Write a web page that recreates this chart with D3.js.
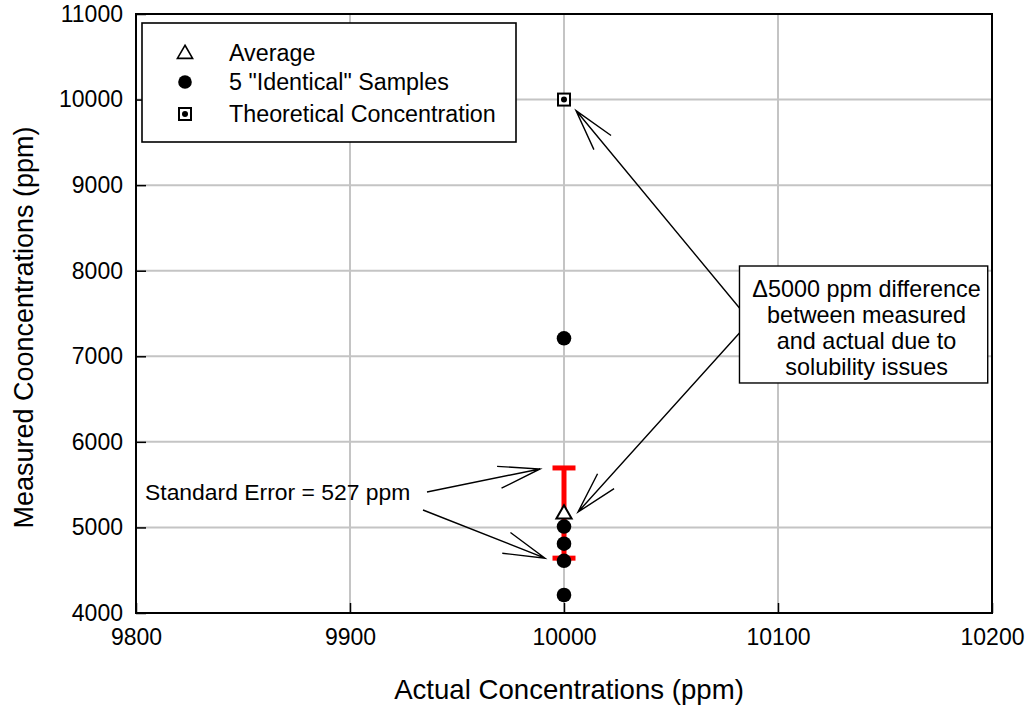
<!DOCTYPE html>
<html>
<head>
<meta charset="utf-8">
<script src="https://cdn.jsdelivr.net/npm/d3@7"></script>
<style>
  body { margin: 0; background: #fff; }
  text { font-family: Arial, "Liberation Sans", sans-serif; fill: #000; }
</style>
</head>
<body>
<div id="chart"></div>
<script>
// data
const sampleX = [10000, 10000, 10000, 10000, 10000];
const sampleY = [7210, 5010, 4810, 4610, 4210];
const averageX = [10000];
const averageY = [5168];
const standardError = [527];
const theoreticalX = [10000];
const theoreticalY = [10000];
const xTicks = [9800, 9900, 10000, 10100, 10200];
const yTicks = [4000, 5000, 6000, 7000, 8000, 9000, 10000, 11000];
const legendLabels = ["Average", "5 \"Identical\" Samples", "Theoretical Concentration"];
const noteLines = ["\u03945000 ppm difference", "between measured", "and actual due to", "solubility issues"];
const seLabel = "Standard Error = 527 ppm";

const W = 1027, H = 709;
const margin = { top: 14, right: 35, bottom: 96, left: 136 };
const width = W - margin.left - margin.right;
const height = H - margin.top - margin.bottom;

const svg = d3.select("#chart").append("svg")
  .attr("width", W)
  .attr("height", H);

const g = svg.append("g")
  .attr("transform", "translate(" + margin.left + "," + margin.top + ")");

const x = d3.scaleLinear().domain([9800, 10200]).range([0, width]);
const y = d3.scaleLinear().domain([4000, 11000]).range([height, 0]);

// grid
g.append("g").selectAll("line")
  .data(xTicks.slice(1, -1))
  .enter().append("line")
  .attr("x1", d => x(d)).attr("x2", d => x(d))
  .attr("y1", 0).attr("y2", height)
  .attr("stroke", "#c4c4c4").attr("stroke-width", 2);

g.append("g").selectAll("line")
  .data(yTicks.slice(1, -1))
  .enter().append("line")
  .attr("y1", d => y(d)).attr("y2", d => y(d))
  .attr("x1", 0).attr("x2", width)
  .attr("stroke", "#c4c4c4").attr("stroke-width", 2);

// axes, ticks pointing inwards
const xAxis = g.append("g")
  .attr("transform", "translate(0," + height + ")")
  .call(d3.axisBottom(x).tickValues(xTicks).tickFormat(d3.format("d")).tickSizeInner(-10).tickSizeOuter(0).tickPadding(16));
const yAxis = g.append("g")
  .call(d3.axisLeft(y).tickValues(yTicks).tickFormat(d3.format("d")).tickSizeInner(-10).tickSizeOuter(0).tickPadding(13));

[xAxis, yAxis].forEach(a => {
  a.select(".domain").remove();
  a.selectAll(".tick line").attr("stroke", "#000").attr("stroke-width", 1.5);
  a.selectAll(".tick text")
    .attr("font-family", "Arial, 'Liberation Sans', sans-serif")
    .attr("font-size", 23)
    .attr("fill", "#000");
});

// plot frame
g.append("rect")
  .attr("width", width).attr("height", height)
  .attr("fill", "none").attr("stroke", "#000").attr("stroke-width", 2);

// axis titles
svg.append("text")
  .attr("x", margin.left + width / 2 + 5)
  .attr("y", 699)
  .attr("text-anchor", "middle")
  .attr("font-size", 27.6)
  .text("Actual Concentrations (ppm)");

svg.append("text")
  .attr("transform", "translate(33," + (margin.top + y(7500) + 14) + ") rotate(-90)")
  .attr("text-anchor", "middle")
  .attr("font-size", 27)
  .text("Measured Cooncentrations (ppm)");

// error bar (red)
const avg = averageY.map((v, i) => ({ x: averageX[i], y: v, se: standardError[i] }));
const capW = 23;
avg.forEach(d => {
  g.append("line")
    .attr("x1", x(d.x)).attr("x2", x(d.x))
    .attr("y1", y(d.y + d.se)).attr("y2", y(d.y - d.se))
    .attr("stroke", "#ff0000").attr("stroke-width", 5);
  [d.y + d.se, d.y - d.se].forEach(v => {
    g.append("line")
      .attr("x1", x(d.x) - capW / 2).attr("x2", x(d.x) + capW / 2)
      .attr("y1", y(v)).attr("y2", y(v))
      .attr("stroke", "#ff0000").attr("stroke-width", 5);
  });
});

// samples
g.append("g").selectAll("circle")
  .data(sampleY.map((v, i) => ({ x: sampleX[i], y: v })))
  .enter().append("circle")
  .attr("cx", d => x(d.x)).attr("cy", d => y(d.y))
  .attr("r", 7.3).attr("fill", "#000");

// average triangle
const tri = d3.symbol().type(d3.symbolTriangle).size(100);
g.append("g").selectAll("path")
  .data(avg)
  .enter().append("path")
  .attr("d", tri)
  .attr("transform", d => "translate(" + x(d.x) + "," + (y(d.y) + 1) + ")")
  .attr("fill", "#fff").attr("stroke", "#000").attr("stroke-width", 2);

// theoretical square marker
function squareMarker(sel, cx, cy) {
  sel.append("rect")
    .attr("x", cx - 6).attr("y", cy - 6).attr("width", 12).attr("height", 12)
    .attr("fill", "#fff").attr("stroke", "#000").attr("stroke-width", 2);
  sel.append("circle")
    .attr("cx", cx).attr("cy", cy).attr("r", 3).attr("fill", "#000");
}
theoreticalY.forEach((v, i) => squareMarker(g, x(theoreticalX[i]), y(v)));

// legend
const leg = svg.append("g").attr("transform", "translate(142,23)");
leg.append("rect")
  .attr("width", 374).attr("height", 119)
  .attr("fill", "#fff").attr("stroke", "#000").attr("stroke-width", 1.6);
const rowY = [30, 59, 91];
leg.append("path")
  .attr("d", d3.symbol().type(d3.symbolTriangle).size(100))
  .attr("transform", "translate(43," + (rowY[0] + 1) + ")")
  .attr("fill", "#fff").attr("stroke", "#000").attr("stroke-width", 1.6);
leg.append("circle").attr("cx", 43).attr("cy", rowY[1]).attr("r", 6.8).attr("fill", "#000");
squareMarker(leg, 43, rowY[2]);
leg.selectAll("text.lab")
  .data(legendLabels)
  .enter().append("text")
  .attr("class", "lab")
  .attr("x", 87)
  .attr("y", (d, i) => rowY[i] + 8)
  .attr("font-size", 23.3)
  .text(d => d);

// arrows with open V heads
function arrow(x1, y1, tx, ty) {
  const a = Math.atan2(y1 - ty, x1 - tx);
  const len = 43, spread = 15 * Math.PI / 180;
  const path = d3.path();
  path.moveTo(x1, y1); path.lineTo(tx, ty);
  path.moveTo(tx + len * Math.cos(a - spread), ty + len * Math.sin(a - spread));
  path.lineTo(tx, ty);
  path.lineTo(tx + len * Math.cos(a + spread), ty + len * Math.sin(a + spread));
  g.append("path").attr("d", path.toString())
    .attr("fill", "none").attr("stroke", "#000").attr("stroke-width", 1.4);
}

// note box on the right
const boxX = x(10082), boxY = y(8055), boxW = x(10198) - x(10082), boxH = y(6688) - y(8055);
arrow(boxX, boxY + 42, x(theoreticalX[0]) + 12, y(theoreticalY[0]) + 11);
arrow(boxX, boxY + 67, x(averageX[0]) + 14, y(averageY[0]) - 1);

g.append("rect")
  .attr("x", boxX).attr("y", boxY).attr("width", boxW).attr("height", boxH)
  .attr("fill", "#fff").attr("stroke", "#000").attr("stroke-width", 1.4);
g.selectAll("text.note")
  .data(noteLines)
  .enter().append("text")
  .attr("class", "note")
  .attr("x", boxX + boxW / 2 + 3)
  .attr("y", (d, i) => boxY + 31 + i * 26)
  .attr("text-anchor", "middle")
  .attr("font-size", 23.4)
  .text(d => d);

// standard error label and arrows
g.append("text")
  .attr("x", 9).attr("y", 486)
  .attr("font-size", 22.9)
  .text(seLabel);
const e0 = avg[0];
arrow(291, 478, x(e0.x) - 24, y(e0.y + e0.se) + 1);
arrow(287, 496, x(e0.x) - 19, y(e0.y - e0.se));
</script>
</body>
</html>
